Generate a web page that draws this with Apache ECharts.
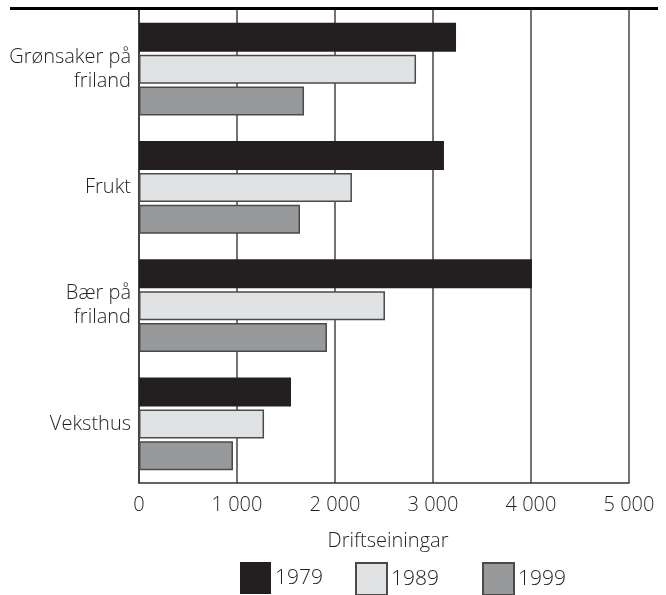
<!DOCTYPE html>
<html>
<head>
<meta charset="utf-8">
<script src="https://cdn.jsdelivr.net/npm/echarts@6/dist/echarts.min.js"></script>
<style>
html,body{margin:0;padding:0;background:#fff;}
#chart{width:666px;height:595px;}
</style>
</head>
<body>
<div id="chart"></div>
<script>
var categories = ['Grønsaker på\nfriland', 'Frukt', 'Bær på\nfriland', 'Veksthus'];
var years = ['1979', '1989', '1999'];
var values1979 = [3235, 3112, 4010, 1551];
var values1989 = [2827, 2173, 2510, 1276];
var values1999 = [1684, 1643, 1918, 959];
var xTicks = [0, 1000, 2000, 3000, 4000, 5000];
var axisName = 'Driftseiningar';

var FONT = '"Open Sans", "DejaVu Sans", sans-serif';
var FW = 300;
var TXT = '#231f20';
var colors = ['#231f20', '#e1e2e4', '#98999b'];
var borders = ['#231f20', '#4a4a4a', '#4a4a4a'];
var seriesVals = [values1979, values1989, values1999];

var chart = echarts.init(document.getElementById('chart'), null, {renderer: 'canvas'});

function fmt(v) {
  var s = String(v);
  return s.length > 3 ? s.slice(0, s.length - 3) + ' ' + s.slice(-3) : s;
}

var legendLefts = [240, 355, 482];
var legends = years.map(function (y, i) {
  return {
    data: [{name: y, icon: 'rect'}],
    left: legendLefts[i],
    top: 562,
    orient: 'horizontal',
    itemWidth: 31,
    itemHeight: 32,
    padding: 0,
    selectedMode: false,
    textStyle: {fontFamily: FONT, fontWeight: FW, fontSize: 21, color: TXT, padding: [3, 0, 0, -1]}
  };
});

var option = {
  animation: false,
  backgroundColor: '#fff',
  textStyle: {fontFamily: FONT},
  grid: {left: 139, right: 37, top: 10, bottom: 112, containLabel: false},
  legend: legends,
  xAxis: {
    type: 'value',
    min: xTicks[0],
    max: xTicks[xTicks.length - 1],
    interval: 1000,
    name: axisName,
    nameLocation: 'middle',
    nameGap: 48,
    nameTextStyle: {fontFamily: FONT, fontWeight: FW, fontSize: 20, color: TXT, padding: [0, 0, 0, 8]},
    axisLine: {show: true, lineStyle: {color: '#333', width: 1.5}},
    axisTick: {show: false},
    axisLabel: {fontFamily: FONT, fontWeight: FW, fontSize: 20, color: TXT, margin: 12, formatter: fmt},
    splitLine: {show: true, lineStyle: {color: '#444', width: 1.5}}
  },
  yAxis: {
    type: 'category',
    inverse: true,
    data: categories,
    axisLine: {show: true, lineStyle: {color: '#333', width: 1.5}},
    axisTick: {show: false},
    axisLabel: {fontFamily: FONT, fontWeight: FW, fontSize: 20, color: TXT, margin: 8, lineHeight: 24, align: 'right', padding: [3, 0, 0, 0]},
    splitLine: {show: false}
  },
  series: years.map(function (y, i) {
    return {
      name: y,
      type: 'bar',
      data: seriesVals[i],
      barWidth: 29,
      barGap: '10%',
      itemStyle: {color: colors[i], borderColor: borders[i], borderWidth: i === 0 ? 0 : 1.5},
      emphasis: {disabled: true}
    };
  }),
  graphic: [{
    type: 'line',
    shape: {x1: 10, y1: 8.5, x2: 658, y2: 8.5},
    style: {stroke: '#000', lineWidth: 3},
    z: 100
  }]
};
chart.setOption(option);
</script>
</body>
</html>
